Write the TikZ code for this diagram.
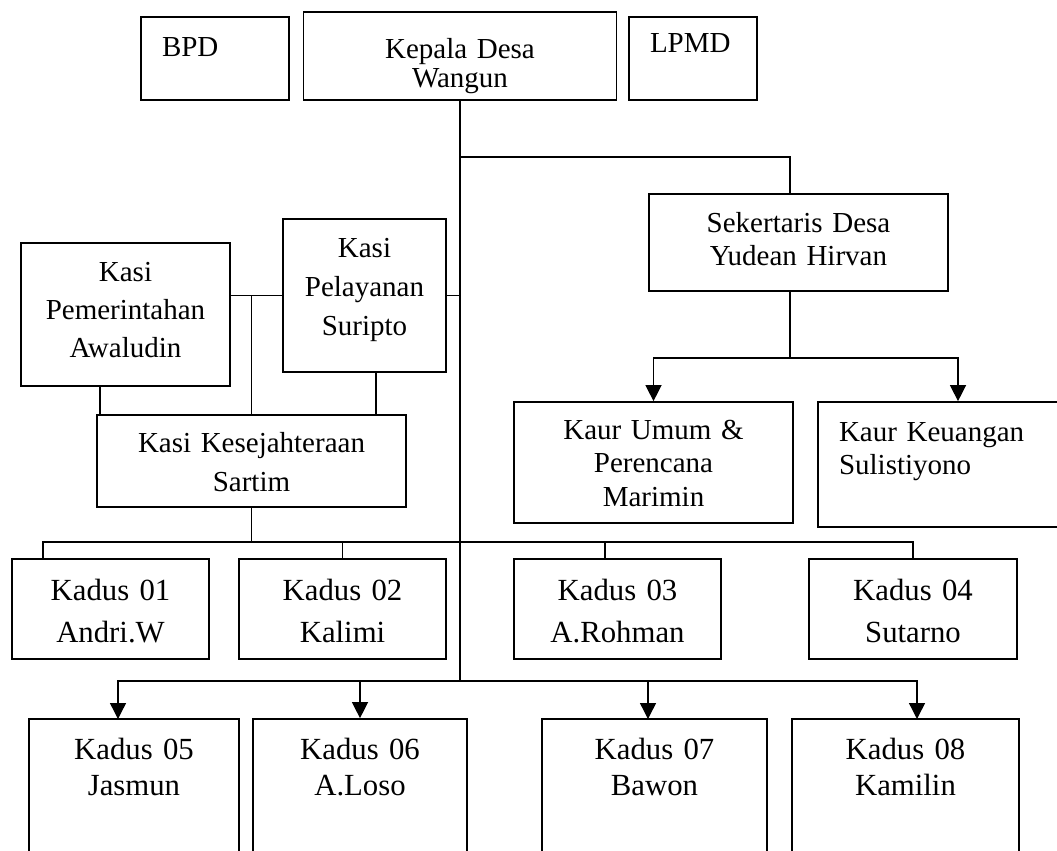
\documentclass[tikz,border=0pt]{standalone}
\usepackage{fontspec}
\setmainfont{Liberation Serif}
\usetikzlibrary{arrows.meta}

\tikzset{
  kotak/.style={draw, line width=1pt, inner sep=0pt, align=center, text height=0.4cm},
  huruf/.style={font=\fontsize{16.5}{#1}\selectfont},
  hurufk/.style={font=\fontsize{17.5}{#1}\selectfont},
  garis/.style={line width=0.75pt},
  panah/.style={line width=0.75pt, -{Triangle[width=0.32cm,length=0.32cm]}},
}

\begin{document}
\begin{tikzpicture}[x=0.02cm, y=-0.02cm]
    \useasboundingbox (0,0) rectangle (1057,850);
    \clip (0,0) rectangle (1057,850);
    % baris atas
    \node[kotak, huruf=20, minimum width=2.96cm, minimum height=1.66cm, text width=2.12cm, align=left, text depth=0.5cm] (bpd) at (215,58.5) {BPD};
    \node[kotak, huruf=16.8, text width=6.26cm, minimum height=1.76cm, text height=0.6cm, text depth=0.52cm] (kades) at (460,56) {Kepala Desa\\Wangun};
    \node[kotak, huruf=20, minimum width=2.56cm, minimum height=1.66cm, text width=1.72cm, align=left, text depth=0.66cm] (lpmd) at (693,58.5) {LPMD};
    % sekdes dan kaur
    \node[kotak, huruf=19.3, text width=5.98cm, minimum height=1.94cm, text depth=0.82cm] (sekdes) at (798.5,242.5) {Sekertaris Desa\\Yudean Hirvan};
    \node[kotak, huruf=19.3, text width=5.58cm, minimum height=2.42cm, text depth=1.34cm] (kaurum) at (653.5,462.5) {Kaur Umum \&\\Perencana\\Marimin};
    \node[kotak, huruf=18.8, minimum width=5.6cm, minimum height=2.5cm, text width=4.76cm, align=left, text depth=1.34cm] (kaurkeu) at (958,464.5) {Kaur Keuangan\\Sulistiyono};
    % kasi
    \node[kotak, huruf=21.9, text width=4.18cm, minimum height=2.86cm, text depth=1.74cm] (kasipem) at (125.5,314.5) {Kasi\\Pemerintahan\\Awaludin};
    \node[kotak, huruf=22.2, text width=3.26cm, minimum height=3.06cm, text depth=1.94cm] (kasipel) at (364.5,295.5) {Kasi\\Pelayanan\\Suripto};
    \node[kotak, huruf=22.2, text width=6.18cm, minimum height=1.84cm, text depth=0.76cm] (kasikes) at (251.5,461) {Kasi Kesejahteraan\\Sartim};
    % kadus 01-04
    \node[kotak, hurufk=23.9, text width=3.94cm, minimum height=2cm, text depth=0.76cm] (kadus1) at (110.5,609) {Kadus 01\\Andri.W};
    \node[kotak, hurufk=23.9, text width=4.14cm, minimum height=2cm, text depth=0.76cm] (kadus2) at (342.5,609) {Kadus 02\\Kalimi};
    \node[kotak, hurufk=23.9, text width=4.14cm, minimum height=2cm, text depth=0.76cm] (kadus3) at (617.5,609) {Kadus 03\\A.Rohman};
    \node[kotak, hurufk=23.9, text width=4.16cm, minimum height=2cm, text depth=0.76cm] (kadus4) at (913,609) {Kadus 04\\Sutarno};
    % kadus 05-08
    \node[kotak, hurufk=20.5, text width=4.2cm, minimum height=3.62cm, text depth=2.42cm] (kadus5) at (134,809.5) {Kadus 05\\Jasmun};
    \node[kotak, hurufk=20.5, text width=4.28cm, minimum height=3.62cm, text depth=2.42cm] (kadus6) at (360,809.5) {Kadus 06\\A.Loso};
    \node[kotak, hurufk=20.5, text width=4.5cm, minimum height=3.62cm, text depth=2.42cm] (kadus7) at (654.5,809.5) {Kadus 07\\Bawon};
    \node[kotak, hurufk=20.5, text width=4.54cm, minimum height=3.62cm, text depth=2.42cm] (kadus8) at (905.5,809.5) {Kadus 08\\Kamilin};
    % titik bantu
    \coordinate (sekatas) at (790,194);
    \coordinate (sekbawah) at (790,291);
    \coordinate (bagi) at (790,358);
    \coordinate (pemkaki) at (100,386);
    \coordinate (pelkaki) at (376,372);
    \coordinate (jalur1) at (460,542);
    \coordinate (jalur2) at (460,681);
    \coordinate (tk1) at (43,559);
    \coordinate (tk3) at (605,559);
    \coordinate (tk5) at (118,719);
    \coordinate (tk7) at (648,719);
    \coordinate (tk8) at (917,719);
    % garis
    \draw[garis] (kades.south) -- (jalur2);
    \draw[garis] (kades.south |- 0,157) -| (sekatas);
    \draw[garis] (sekbawah) -- (bagi);
    \draw[panah] (bagi) -| (kaurum.north);
    \draw[panah] (bagi) -| (kaurkeu.north);
    \draw[garis] (kasipel.east) -- (kasipel.east -| jalur2);
    \draw[garis] (kasipem.east |- kasipel.west) -- (kasipel.west);
    \draw[garis] (kasikes.north) -- (kasikes.north |- kasipel.west);
    \draw[garis] (pemkaki) -- (pemkaki |- kasikes.north);
    \draw[garis] (pelkaki) -- (pelkaki |- kasikes.north);
    \draw[garis] (kasikes.south) -- (kasikes.south |- jalur1);
    \draw[garis] (tk1) |- (jalur1) -| (kadus4.north);
    \draw[garis] (kadus2.north) -- (kadus2.north |- jalur1);
    \draw[garis] (tk3) -- (tk3 |- jalur1);
    \draw[panah] (jalur2) -| (tk5);
    \draw[panah] (jalur2) -| (kadus6.north);
    \draw[panah] (jalur2) -| (tk7);
    \draw[panah] (jalur2) -| (tk8);
\end{tikzpicture}
\end{document}
